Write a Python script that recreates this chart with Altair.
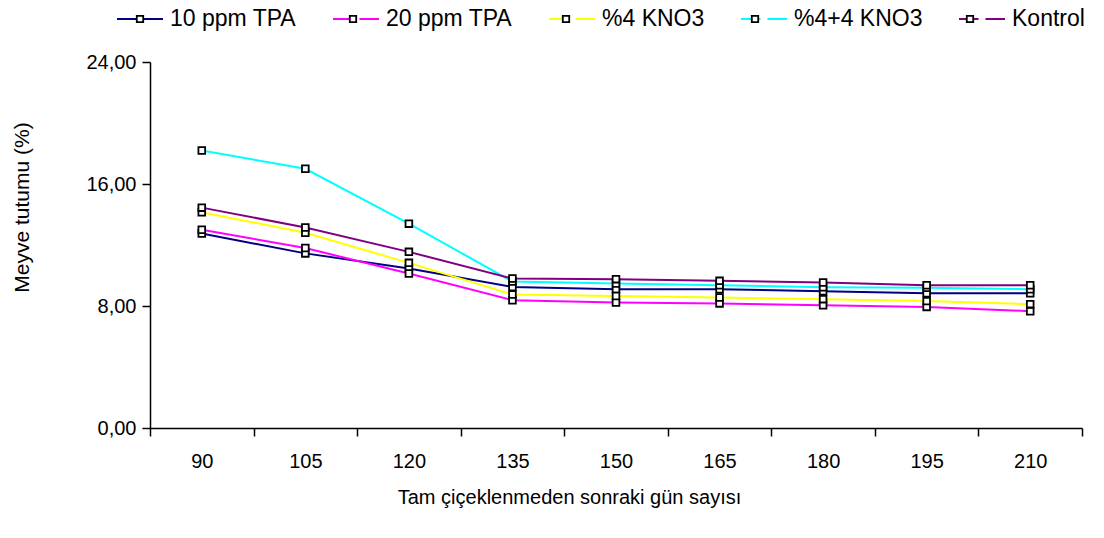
import altair as alt
import pandas as pd

days = [90, 105, 120, 135, 150, 165, 180, 195, 210]
series_names = ["10 ppm TPA", "20 ppm TPA", "%4 KNO3", "%4+4 KNO3", "Kontrol"]
colors = ["#000080", "#FF00FF", "#FFFF00", "#00FFFF", "#800080"]

tpa10 = [12.75, 11.45, 10.46, 9.25, 9.10, 9.10, 8.97, 8.84, 8.84]
tpa20 = [13.00, 11.80, 10.13, 8.38, 8.23, 8.17, 8.05, 7.94, 7.66]
kno3_4 = [14.15, 12.80, 10.83, 8.75, 8.66, 8.56, 8.45, 8.32, 8.12]
kno3_44 = [18.20, 17.00, 13.40, 9.60, 9.48, 9.36, 9.23, 9.20, 9.10]
kontrol = [14.45, 13.15, 11.55, 9.80, 9.76, 9.65, 9.54, 9.36, 9.36]

y_ticks = [0, 8, 16, 24]

# marker key: same names plus a zero-width space, so the marker legend stays separate
marker_names = [n + "\u200b" for n in series_names]

rows = []
for name, mname, vals in zip(series_names, marker_names, [tpa10, tpa20, kno3_4, kno3_44, kontrol]):
    for d, v in zip(days, vals):
        rows.append({"day": d, "value": v, "series": name, "marker": mname})
df = pd.DataFrame(rows)

half_step = (days[1] - days[0]) / 2
bounds = [d - half_step for d in days] + [days[-1] + half_step]
x_values = sorted(set(bounds + days))

FONT = "Liberation Sans"

x_enc = alt.X(
    "day:Q",
    scale=alt.Scale(domain=[bounds[0], bounds[-1]], nice=False, zero=False),
    axis=alt.Axis(
        values=x_values,
        title="Tam çiçeklenmeden sonraki gün sayısı",
        labelExpr="datum.value % 15 == 0 ? datum.label : ''",
        tickOpacity={"condition": {"test": "datum.value % 15 == 0", "value": 0}, "value": 1},
        tickSize=8,
        labelPadding=15,
        labelOverlap=False,
        labelFlush=False,
        grid=False,
        titleX=419,
        titleY=69,
        titleBaseline="middle",
    ),
)
y_enc = alt.Y(
    "value:Q",
    scale=alt.Scale(domain=[0, 24], nice=False),
    axis=alt.Axis(
        values=y_ticks,
        labelExpr="replace(format(datum.value, '.2f'), '.', ',')",
        title="Meyve tutumu (%)",
        tickSize=8,
        labelPadding=6,
        grid=False,
        titleX=-128,
        titleY=145,
        titleBaseline="middle",
        titleFontSize=21,
    ),
)

legend_common = dict(
    title=None,
    orient="none",
    direction="horizontal",
    columns=5,
    legendX=-34,
    legendY=-67,
    symbolSize=2116,
    labelFontSize=23,
    labelFont=FONT,
    labelColor="black",
    columnPadding=32,
    labelOffset=6,
)

color_enc = alt.Color(
    "series:N",
    scale=alt.Scale(domain=series_names, range=colors),
    sort=series_names,
    legend=alt.Legend(
        symbolType="M-1,0H-0.15M0.15,0H1",
        symbolStrokeWidth=2,
        **legend_common,
    ),
)

fill_enc = alt.Fill(
    "marker:N",
    scale=alt.Scale(domain=marker_names, range=["white"] * len(marker_names)),
    sort=marker_names,
    legend=alt.Legend(
        symbolType="M-0.14,-0.14H0.14V0.14H-0.14Z",
        symbolStrokeColor="black",
        symbolStrokeWidth=1.8,
        symbolFillColor="white",
        labelOpacity=0,
        **legend_common,
    ),
)

lines = alt.Chart(df).mark_line(strokeWidth=2).encode(
    x=x_enc, y=y_enc, color=color_enc, detail="series:N"
)
points = alt.Chart(df).mark_point(
    shape="square", filled=False, stroke="black", strokeWidth=1.8, size=45, opacity=1
).encode(x="day:Q", y="value:Q", fill=fill_enc, detail="series:N")

chart = (
    alt.layer(lines, points)
    .properties(
        width=932,
        height=366,
        autosize=alt.AutoSizeParams(type="none"),
        padding={"left": 150, "top": 62, "right": 22, "bottom": 110},
        background="white",
    )
    .configure_view(stroke=None)
    .configure_axis(
        domainColor="black",
        domainWidth=1.5,
        tickColor="black",
        tickWidth=1.5,
        labelColor="black",
        titleColor="black",
        labelFont=FONT,
        titleFont=FONT,
        labelFontSize=20,
        titleFontSize=20,
        titleFontWeight="normal",
    )
)

chart.save("out.html", embed_options={"renderer": "svg", "actions": False})
